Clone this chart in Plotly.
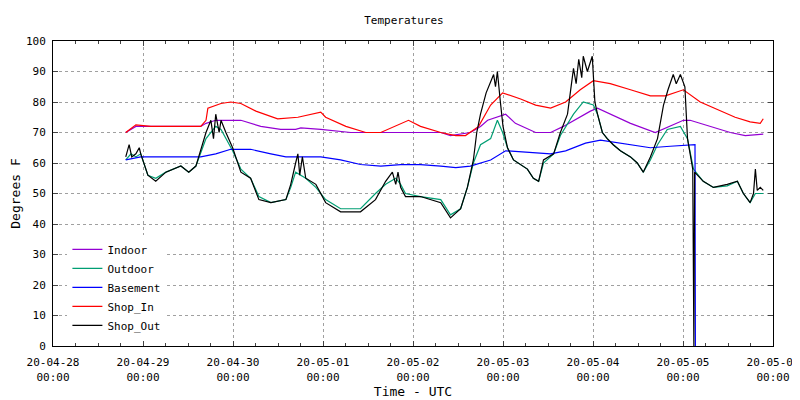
import plotly.graph_objects as go
import pandas as pd

BASE = pd.Timestamp("2020-04-28 00:00")

indoor_h = [19.4, 22.1, 26.1, 34.1, 39.4, 40.8, 43.4, 47.4, 50.1, 55.4, 60.7, 64.7, 66.1, 71.4, 79.4, 90.0, 103.4, 106.0, 111.3, 114.0, 115.9, 120.7, 123.3, 128.7, 132.7, 136.1, 143.3, 145.2, 148.6, 154.0, 160.6, 164.6, 168.1, 169.9, 175.3, 180.6, 184.6, 189.4]
indoor_v = [70, 72, 72, 72, 72, 73, 74, 74, 74, 72, 71, 71, 71.5, 71, 70, 70, 70, 69, 70, 72, 74, 76, 73, 70, 70, 72, 77, 78, 76, 73, 70, 72, 74, 74, 72, 70, 69, 69.5]

outdoor_h = [19.4, 20.8, 22.1, 23.4, 25.3, 27.4, 30.1, 34.1, 36.2, 38.1, 40.8, 42.1, 43.4, 44.8, 46.1, 47.9, 50.1, 52.7, 54.9, 58.1, 62.1, 63.4, 64.7, 66.1, 67.4, 70.1, 72.7, 76.7, 82.0, 86.0, 88.7, 91.4, 92.7, 94.0, 98.0, 103.4, 106.0, 108.7, 110.5, 112.1, 114.0, 116.7, 118.5, 119.9, 121.2, 122.8, 126.5, 128.1, 129.5, 130.8, 133.5, 135.3, 137.2, 138.8, 141.4, 144.1, 145.2, 146.5, 147.8, 149.4, 151.3, 154.0, 155.8, 157.4, 159.3, 161.2, 163.8, 167.3, 169.2, 170.8, 173.4, 176.1, 179.8, 182.5, 184.1, 185.9, 187.3, 189.4]
outdoor_v = [61, 63, 62, 63, 56, 55, 57, 59, 57, 59, 68, 70, 72, 71, 68, 64, 58, 55, 49, 47, 48, 52, 57, 56, 55, 52, 48, 45, 45, 50, 53, 55, 53, 50, 49, 48, 43, 45, 52, 60, 66, 68, 74, 70, 65, 61, 58, 55, 54, 60, 63, 69, 73, 76, 80, 79, 76, 70, 68, 66, 64, 62, 60, 57, 61, 66, 71, 72, 68, 58, 54, 52, 52.5, 54, 50, 47, 50, 50]

basement_h = [19.4, 23.4, 39.4, 43.4, 47.4, 52.7, 58.1, 62.1, 71.4, 76.7, 82.0, 87.4, 92.7, 98.0, 103.4, 107.4, 111.3, 116.7, 120.7, 127.3, 132.7, 136.7, 142.0, 146.0, 154.0, 159.3, 164.6, 169.9, 171.2, 171.3]
basement_v = [61, 62, 62, 63, 64.5, 64.5, 63, 62, 62, 61, 59.5, 59, 59.5, 59.5, 59, 58.5, 59, 61, 64, 63.5, 63, 64, 66.5, 67.5, 66, 65, 65.5, 66, 66, 0]

shopin_h = [19.4, 22.1, 26.1, 39.4, 40.8, 41.3, 44.8, 47.4, 50.1, 54.1, 59.9, 65.3, 71.4, 72.7, 78.1, 83.4, 87.4, 94.8, 98.0, 103.4, 107.4, 110.0, 113.5, 116.7, 119.9, 124.7, 128.7, 132.7, 136.7, 140.6, 144.1, 148.6, 154.0, 159.3, 163.3, 168.1, 172.6, 177.9, 181.9, 185.9, 187.8, 188.6, 189.4]
shopin_v = [70, 72.5, 72, 72, 74, 78, 79.5, 80, 79.5, 77, 74.5, 75, 76.7, 75, 72, 70, 70, 74, 72, 70, 69, 69, 72, 79, 83, 81, 79, 78, 80, 84, 87, 86, 84, 82, 82, 84, 80, 77, 75, 73.5, 73, 73, 74.5]

shopout_h = [19.4, 20.3, 21.0, 22.1, 23.0, 23.4, 25.3, 27.4, 30.1, 34.1, 36.2, 38.1, 40.8, 42.1, 42.8, 43.4, 44.3, 44.8, 46.1, 47.9, 50.1, 52.7, 54.9, 58.1, 62.1, 63.4, 64.7, 65.3, 65.8, 66.5, 67.4, 70.1, 72.7, 76.7, 82.0, 86.0, 88.7, 90.5, 91.4, 92.0, 92.7, 94.0, 98.0, 103.4, 106.0, 108.7, 110.5, 112.1, 113.0, 114.0, 115.5, 116.7, 117.5, 118.0, 118.5, 119.3, 120.0, 121.2, 122.8, 126.5, 128.1, 129.5, 130.8, 133.5, 135.3, 137.2, 138.8, 139.5, 140.2, 141.0, 141.4, 142.5, 143.8, 144.5, 145.2, 146.5, 147.8, 149.4, 151.3, 154.0, 155.8, 157.4, 159.3, 161.2, 162.8, 164.0, 165.4, 166.2, 167.3, 168.5, 169.2, 170.6, 170.9, 171.1, 173.4, 176.1, 179.8, 182.5, 184.1, 185.9, 186.8, 187.3, 187.8, 188.6, 189.4]
shopout_v = [62, 66, 62, 63, 65, 63, 56, 54, 57, 59, 57, 59, 70, 74, 68, 76, 70, 74, 70, 65, 57, 55, 48, 47, 48, 53, 60, 63, 56, 62, 55, 53, 47, 44, 44, 48, 54, 57, 53, 57, 52, 49, 49, 47, 42, 45, 52, 61, 70, 76, 83, 87, 89, 85, 90, 80, 72, 65, 61, 58, 55, 54, 61, 63, 70, 76, 91, 86, 94, 88, 95, 90, 95, 80, 76, 70, 68, 66, 64, 62, 60, 57, 62, 68, 79, 84, 89, 86, 89, 85, 68, 58, 0, 57, 54, 52, 53, 54, 50, 47, 50, 58, 51, 52, 51]

tick_days = ["2020-04-28", "2020-04-29", "2020-04-30", "2020-05-01", "2020-05-02", "2020-05-03", "2020-05-04", "2020-05-05", "2020-05-06"]
tick_text = [d[2:] + "<br>00:00" for d in tick_days]

def tx(h):
    return [BASE + pd.Timedelta(hours=v) for v in h]

series = [
    ("Indoor", indoor_h, indoor_v, "#9400d3"),
    ("Outdoor", outdoor_h, outdoor_v, "#009e73"),
    ("Basement", basement_h, basement_v, "#0000ff"),
    ("Shop_In", shopin_h, shopin_v, "#ff0000"),
    ("Shop_Out", shopout_h, shopout_v, "#000000"),
]

fig = go.Figure()
for name, h, v, c in series:
    fig.add_trace(go.Scatter(x=tx(h), y=v, name=name, mode="lines",
                             line=dict(color=c, width=1.2)))

font = dict(family="DejaVu Sans Mono", size=11, color="black")
fig.update_layout(
    width=792, height=392, template="simple_white", font=font,
    margin=dict(l=45, r=27, t=33, b=54, autoexpand=False),
    title=dict(text="Temperatures", x=0.5, xanchor="center", y=0.97, yanchor="middle",
               font=dict(size=11), automargin=False),
    plot_bgcolor="white", paper_bgcolor="white",
    legend=dict(x=0.02, y=0.02, xanchor="left", yanchor="bottom", bgcolor="white",
                font=dict(size=11), tracegroupgap=0, itemwidth=30),
)
fig.update_xaxes(range=[pd.Timestamp("2020-04-28"), pd.Timestamp("2020-05-06")],
                 tickvals=[pd.Timestamp(d) for d in tick_days], ticktext=tick_text,
                 showgrid=True, gridcolor="#a0a0a0", griddash="dot", gridwidth=1,
                 mirror="ticks", ticks="inside", showline=True, linecolor="black",
                 ticklabelstandoff=6, automargin=False,
                 title=dict(text="Time - UTC", standoff=4),
                 minor=dict(dtick=6*3600*1000, ticks="inside", ticklen=3, showgrid=False))
fig.update_yaxes(range=[0, 100], dtick=10, showgrid=True, gridcolor="#a0a0a0", griddash="dot",
                 mirror="ticks", ticks="inside", showline=True, linecolor="black",
                 automargin=False, ticklabelstandoff=4,
                 title=dict(text="Degrees F", standoff=8), zeroline=False)
fig.write_html("out.html")
